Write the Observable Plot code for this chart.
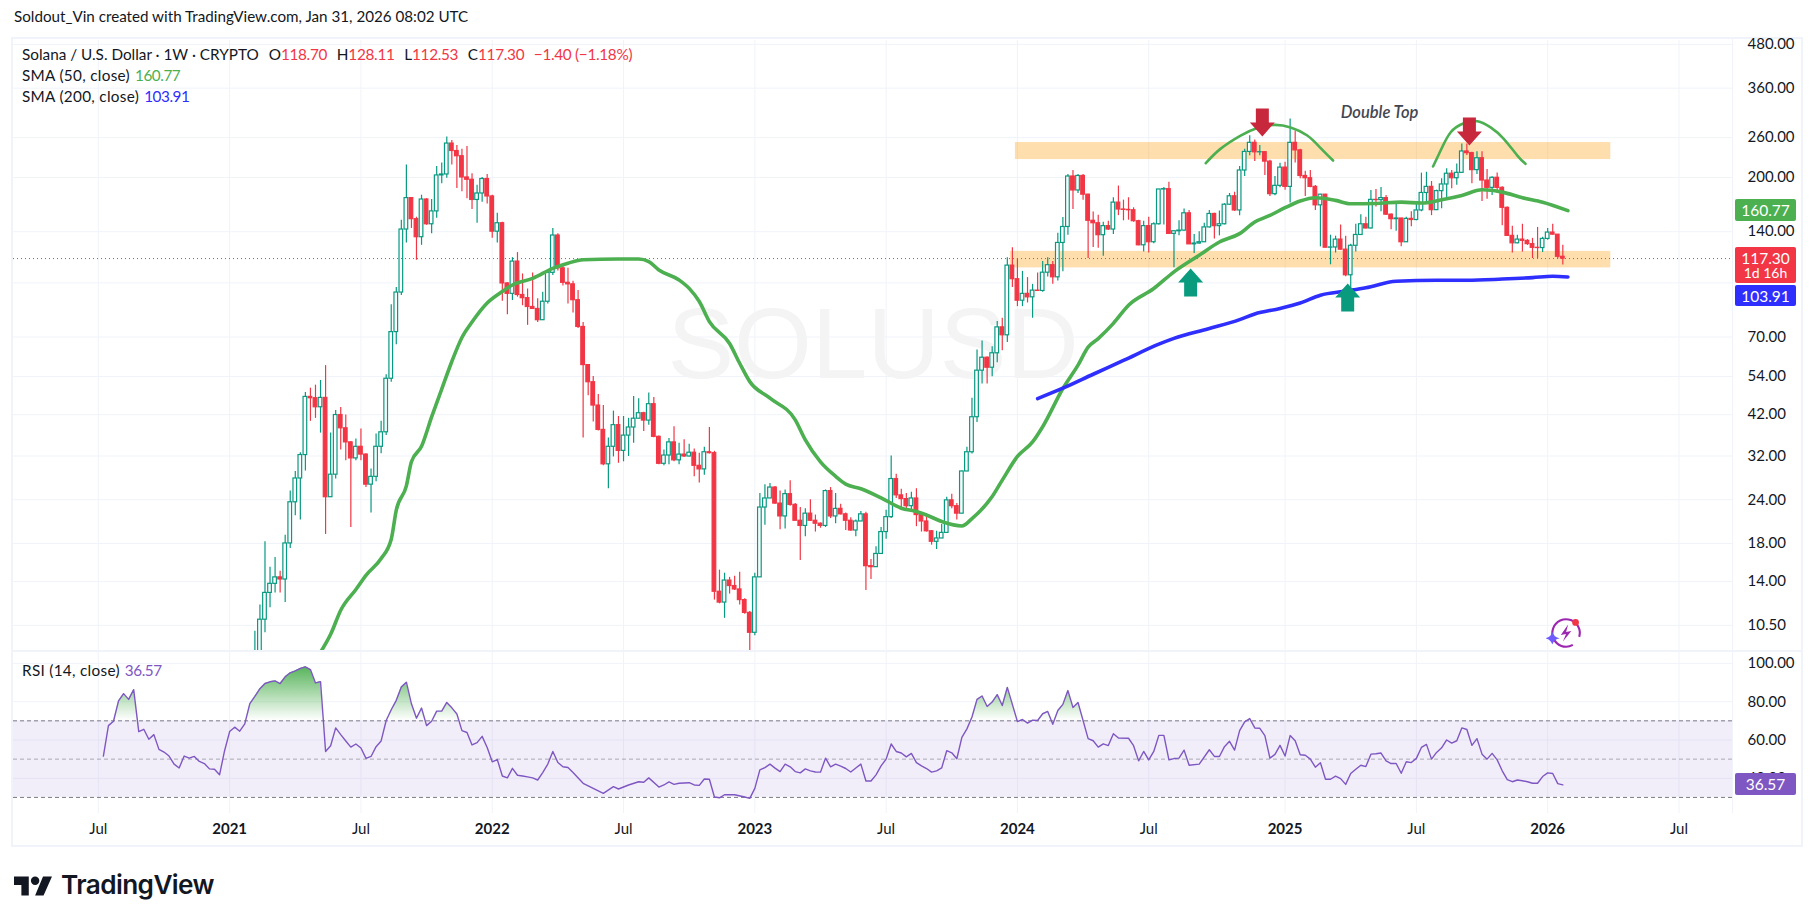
<!DOCTYPE html>
<html>
<head>
<meta charset="utf-8">
<script src="https://cdn.jsdelivr.net/npm/d3@7"></script>
<script src="https://cdn.jsdelivr.net/npm/@observablehq/plot@0.6"></script>
<style>
  html, body { margin: 0; padding: 0; background: #fff; }
  body { width: 1814px; height: 922px; position: relative; overflow: hidden; font-family: Lato, "Noto Sans", sans-serif; color: #131722; }
  .abs { position: absolute; white-space: nowrap; }
  #frame { left: 13px; top: 39px; width: 1788px; height: 806px; border: 2px solid #f0f3fa; box-sizing: content-box; margin: -2px 0 0 -2px; }
  #main, #rsi { left: 13px; }
  #main { top: 40px; }
  #rsi { top: 652px; }
  .tag { position: absolute; left: 1735px; width: 61px; color: #fff; font-size: 15.5px; text-align: center; border-radius: 2px; line-height: 22px; }
  .legend { position: absolute; left: 22px; font-size: 15.3px; }
  .wide { letter-spacing: 0.3px; }
  .num { letter-spacing: -0.45px; margin-left: 5px; }
  .ohlc { letter-spacing: -0.3px; }
  .ohlc b { font-weight: 400; margin-left: 6px; letter-spacing: 0; }
</style>
</head>
<body>
<div class="abs" style="left:14px;top:7px;font-size:15.2px;">Soldout_Vin created with TradingView.com, Jan 31, 2026 08:02 UTC</div>
<div class="abs" id="frame"></div>
<div class="abs" id="main"></div>
<div class="abs" id="rsi"></div>
<div class="abs" style="left:1732px;top:39px;width:1px;height:774px;background:#f0f3fa;"></div>
<div class="abs" style="left:13px;top:650px;width:1788px;height:2px;background:#f0f3fa;"></div>

<div class="legend" style="top:45px;">Solana / U.S. Dollar · 1W · CRYPTO <span class="ohlc"><b>O</b><span style="color:#f23645">118.70</span> <b>H</b><span style="color:#f23645">128.11</span> <b>L</b><span style="color:#f23645">112.53</span> <b>C</b><span style="color:#f23645">117.30</span> <span style="color:#f23645;margin-left:6px">−1.40 (−1.18%)</span></span></div>
<div class="legend wide" style="top:66px;">SMA (50, close)<span class="num" style="color:#4caf50">160.77</span></div>
<div class="legend wide" style="top:87px;">SMA (200, close)<span class="num" style="color:#2e2eff">103.91</span></div>
<div class="legend wide" style="top:661px;">RSI (14, close)<span class="num" style="color:#7e57c2">36.57</span></div>

<svg class="abs" style="left:1546px;top:616px;" width="38" height="34" viewBox="0 0 36 32">
  <circle cx="19" cy="16" r="13" fill="none" stroke="#9c27b0" stroke-width="2" stroke-dasharray="60 10" transform="rotate(110 19 16)"/>
  <path d="M21 8 L14 18 L19 17 L16 24 L24 14 L19 15 Z" fill="#9c27b0"/>
  <path d="M6 15 Q7.5 20 13 21 Q7.5 22 6 27 Q4.5 22 -1 21 Q4.5 20 6 15 Z" fill="#6e5cff"/>
  <circle cx="28" cy="6" r="3.2" fill="#f23645"/>
</svg>

<svg class="abs" style="left:14px;top:874px;" width="38" height="24" viewBox="0 0 36 22">
  <path d="M14 2H0v8h7v10h7V2Zm14 18h-8L27.5 2H36l-8 18ZM20 2a4 4 0 1 1 0 8 4 4 0 0 1 0-8Z" fill="#131722"/>
</svg>
<div class="abs" style="left:61px;top:869px;font-family:Inter,sans-serif;font-weight:600;font-size:26.2px;letter-spacing:-0.6px;color:#131722;">TradingView</div>

<script>
// weekly candles, week 0 = 2021-02-08
const firstWeek = Date.UTC(2021, 1, 8);
const weekDate = w => new Date(firstWeek + w * 7 * 864e5);

const weekClose = [
  8.7,10.9,13,13.8,14.4,14.2,18,23.6,27.6,32.2,47.2,46.8,44.1,46.9,24.4,28.3,41.9,38.4,35,31.5,
  34,32.3,26.5,27.9,34,37.4,53.2,72.3,93.8,142,174.6,152,135,173,147,160,202.7,204,250,238,
  230,200,197,172.5,180,198,176.5,140,148,99.6,93,115,92.3,90.4,85.3,84.2,78.2,88.3,106.8,136.5,
  110,100,99,89.2,74.8,58.2,52,44.6,38,30.3,34,39.2,33.1,36.6,38.6,40.9,42.4,40.4,45,36.3,
  30.4,32.1,35,31.1,32.3,31.9,32.7,30,29.3,32.8,32.6,13.1,12.2,14.1,13.6,13.3,12.4,11.4,10,14.4,
  22.8,24.2,26,23.4,21.5,24.9,23.2,20.9,20.2,21.9,20.9,20.5,20.2,25.4,21.5,22.6,21.8,20.9,19.6,20.8,
  21.8,15.5,15.4,16.8,19.4,21.4,27.5,24.7,24.1,23,24.2,21.7,20.8,19.5,18.2,18.6,19.3,23.9,23,21.9,
  28.9,32.8,41.3,56.1,61.1,57.2,62.9,74.6,70.8,112,102.4,88.9,93,90.9,95,94.8,106.9,112.3,103.7,130,
  144.4,201.3,183.6,202,178.6,150.4,148,136.8,145.2,142,169.5,162,161.6,161.2,150,128,145.2,130.6,147,184.8,
  185.2,138,140.4,141,158,128.8,129.5,130.6,144,157.3,145.2,147,167.2,176.7,161,209.4,236.6,251.2,236,236.2,
  222,179.2,189.3,213.4,188,251.2,239,202,199,188,166.5,178.6,126,126.2,132.9,124.4,105.1,127.6,137,147,
  143,172.6,172.3,174.6,156.6,152,152.7,130.6,152.3,151.2,161,180.6,188,161.3,182.8,191,205,199,206.2,237.3,
  234.7,209.9,227,196,186.8,199.6,186.8,163.8,136.2,129.7,132.9,131.8,129,125.9,125.7,133.5,139.2,137.3,118.7,117.3
];
const weekHigh = [
  10.1,12,18.2,15.4,16.4,15,19,25.4,28.9,32.7,48.6,50,51,52.6,58,37.2,43.2,44,41.9,35.2,
  35.8,38.2,32.5,29.4,37,40.2,54.6,86.5,97,151,217,175,154,178,174,173,215,220,261,255,
  247,241,245,205,190,200,204,178,158,149,100,118,122,106,96,106.6,90,94,108,143,
  138,112,110,101,95,77,58.3,54,48,44.6,36,43,41.5,41.5,41,47.3,46.6,42.7,48.4,47,
  36.5,33.3,35.9,38.8,34.8,35.6,34.6,33.5,32.6,33.9,38.6,33,15.1,14.8,14.4,14.5,14.9,12.5,11.5,14.8,
  25,26.5,26.7,26.2,25.4,25.6,27.2,23.4,22.8,22.6,24,21.7,20.6,25.6,26,25,23.3,22,21.3,21,
  22.2,22.1,16.2,17.6,20,22.4,32,28.4,25.7,25,25.2,25.8,21.9,21.7,19.6,19.5,20.4,24.4,24.9,23.4,
  29,33.9,46.8,64.3,68.2,61.4,65.7,77.5,79.2,118,126,117,107.8,103.5,99,106.7,115,118,115,138.5,
  153.8,203.9,209.4,204,204,179,159.3,156,149,150,175,189,172.3,175,163.8,151,150,154,148.4,184.8,
  187.2,193.8,140.4,150.4,162.5,161,137.5,140,148,161,158,160.4,168.4,180,181.5,215,241,263,256,246.7,
  237,224,201.3,219.7,221,294,271,241,208.5,209.4,189.8,179,179,136.8,135.9,146.4,135.9,128.8,147,156.6,
  154,183.6,184.8,187.2,177.7,157.3,168.4,152.3,154,159.6,167.6,205.8,207,194.8,184,198.2,211.8,209.4,218.7,249.3,
  249.3,236,237,237,210.6,201,205.8,188,164.7,145,136.8,147,132.9,134,144,135,143,147,137.5,128.11
];
const weekLow = [
  7.5,8.2,10,11.8,13,13,12.2,17.4,21.6,21,29,40.2,41,37.2,19.1,24.4,27.5,33.3,31,20,
  31,31,26,22,27,32.5,36.6,52,66.5,92,130,143,116,128,146,138,153,192,199,217,
  186,182,174,162,148,170,168,134,130,88.6,81,89,91,86,75.6,84,77,78,87,105,
  108,98,87,82,74,36,47.6,40,37.7,30,25.8,31.8,30.5,30.8,31.9,34.8,41,37.6,39.2,36.1,
  30.2,30,30.2,30.8,30.2,31.7,31.8,27.9,26.8,28.2,32.4,12.4,12.1,11,12.9,13.2,12,11.3,8.9,9.8,
  14.4,20.3,24.2,23.3,19.7,19.8,23,20.9,16.1,18.8,20.8,19.4,19.9,20,21.2,20.5,21.7,19.6,19.5,18.8,
  20.8,13.2,14.2,15.4,16.8,18.5,21.2,24.2,22.7,22.2,22.1,20.1,19.4,19.4,17.8,17.3,18.6,19.3,22.6,21,
  21.9,28.9,32.4,39.9,51.4,51.4,53.9,59.1,64,67.5,97,85.5,85.5,87.6,79.2,94.4,94,103.9,99,101.2,
  107.5,136.8,162,179.9,172.3,117.3,126.2,125.6,119.2,141,137.5,155.6,150.4,151,149,127.6,122.4,121.7,129.4,146.4,
  146.4,137.5,110.4,136.2,140.4,128.8,121.2,129,130.6,143.4,133.4,136.2,146.4,166.5,160,155.4,201.3,230.6,222,230.6,
  202.6,176.4,177.3,187,184,169.2,220,198.2,176.4,186.8,161,126.7,126,112.6,121.7,124,104.1,95,122.4,136.8,
  142.6,142.6,164.7,159.6,155.6,141.8,140.4,126.7,130.6,144.6,150.4,159.6,168.4,155.6,161,162.8,173.3,185.8,190,205.8,
  231,192,204,170.7,173.3,177.7,179.9,145.6,136.2,121.7,129.4,122.4,127.9,117.3,117.3,122,132.3,137,117,112.53
];

const sma50Week = [13,15,17,20,22,25,27,28,30,31,33,35,37,39,41,43,46,49,51,55,59,62,65,72,76,78,80,84,86,88,90,94,96,98,102,107,109,112,115,117,120,124,128,131,133,136,140,142,146,148,151,154,156,160,163,165,167,170,173,178,182,187,191,195,198,201,204,207,210,214,217,222,227,231,235,239,243,247,251,255,260];
const sma50Value = [8.8,9.9,11.6,13.3,14.6,16.3,18.5,22.4,26.3,30.8,34.1,41.4,49.7,59.6,69.8,77.3,87.6,94.5,98.6,103,110,113.8,116.4,117,117,115,108.8,101.9,96.4,88.4,77.5,67.1,58.9,52.2,46.8,40.6,35.6,30.8,28,26.6,25.8,24.3,22.7,22.2,21.7,20.8,20.2,21.2,24.5,27.3,31.9,35.1,38.8,49.9,58.2,65.5,69.3,76.6,86.3,96.3,107.5,119.9,130.8,138.2,149.2,155.8,163.9,171.3,175,172,168.2,168.6,170,169,172.7,177.7,184.4,181.6,175,170,160.77];
const sma200Week = [155,160,166,172,179,182,189,195,198,203,207,211,216,220,226,234,240,247,253,257,260];
const sma200Value = [46.7,50,54.8,60,66.8,69.4,74,78.5,81.5,84.5,87.6,92.2,94.7,96.8,101,101.7,101.7,102.5,103.5,104.4,103.91];

const rsiWeek = [-30,-29,-28,-27,-26,-25,-24,-23,-22,-21,-20,-19,-18,-17,-16,-15,-14,-13,-12,-11,-10,-9,-8,-7,-6,-5,-4,-3,-2,-1,0,1,2,3,4,5,6,7,8,9,10,11,12,13,14,15,16,17,18,19,20,21,22,23,24,25,26,27,28,29,30,31,32,33,34,35,36,37,38,39,40,41,42,43,44,45,46,47,48,49,50,51,52,53,54,55,56,57,58,59,60,61,62,63,65,67,69,71,72,74,76,77,78,80,81,82,83,84,86,87,88,89,90,91,92,93,95,97,98,99,100,101,102,103,104,105,106,107,108,109,110,111,112,113,114,115,116,117,118,119,120,121,122,123,124,125,126,127,128,129,130,131,132,133,134,135,136,137,138,139,140,141,142,143,144,145,146,147,148,149,151,152,153,154,155,156,157,158,159,160,161,162,163,165,166,167,168,169,170,171,173,174,175,176,177,178,179,180,181,182,183,184,185,187,189,190,191,192,193,194,195,196,197,198,199,200,201,202,203,204,205,206,207,208,209,210,211,212,213,214,215,216,217,218,219,220,221,222,223,224,225,226,227,228,229,230,231,232,233,234,235,236,237,238,239,240,241,242,243,244,245,246,247,248,249,250,251,252,253,254,255,256,257,258,259];
const rsiValue = [51.6,67.5,69.8,80.4,84.2,81.2,86.3,64.4,65.6,60.4,62.8,55.1,53.7,51.6,47.4,45.4,51.6,50.5,51.4,48.8,47.7,44.9,44.7,41.8,54.4,64.4,66.7,64.6,68.4,79,82.8,86.8,89.5,90.4,90.9,89.5,93,95.1,96.1,97.4,98.2,96.8,89.8,90.5,54,57,66.3,62.8,59.5,56.3,57.9,55.8,50.4,51.4,56.5,59.5,70.2,75.8,80.7,87.7,90.2,78.9,71.4,76.7,67.5,69.8,75.1,75.1,79.6,76.8,73.6,64.9,63.9,57.4,58.6,61.9,56.1,48.6,49.8,41.2,40.2,45.2,41.6,41.2,40.7,40.2,39.1,43,47.4,54,48.2,46,45.6,43,37.4,34.7,32.1,35.6,34.4,36.5,38.2,37.9,40.2,35.4,36.5,38.1,36.8,37.4,37.7,36.5,36.3,39.6,39.5,30.2,29.8,31.4,31.4,30.2,29.5,34.7,44.4,45.6,47.4,45.3,43.5,47.4,46,43.5,42.8,44.9,43.9,43.3,43.2,50.5,46,47.4,46.3,45.1,43.3,45.4,47.4,38.6,38.6,41.8,46.5,50,57.9,54,53.2,51.2,53,48.2,46.5,45.1,43.2,43.9,45.4,54.4,53.3,50.2,61.4,65.8,72,81.2,83,77.5,79.8,83.7,78,87.5,69.6,70.7,68.8,70.4,70.2,73.7,74.9,68.2,75.4,78.6,85.8,77,79.6,60.7,59.6,56.3,58,57.1,63.3,61,60.9,57,49.1,54,49.6,54,62.4,62.4,49.6,50.3,50.5,54.7,46.8,47.4,54.9,51.4,51.4,56.5,59.3,54.7,64.9,69.5,71.2,66.3,66.1,62.3,50.5,52.5,57.2,51.6,62.3,59.6,52.3,52,50,45.8,48.1,39.5,39.5,41.1,39.8,36.8,42.5,44.7,46.8,46.1,52.6,52.8,53.2,49.1,47.7,47.7,42.6,48.6,48.2,50.4,56.1,57.7,50,53.5,55.9,60,58.4,59.6,66.3,65.5,57.2,60.7,52.6,50,53,49.6,43.9,39.3,38.2,39.1,38.7,38.2,37.4,37.4,40.9,42.8,42.5,37.2,36.57];

const priceTicks = [480,360,260,200,140,100,70,54,42,32,24,18,14,10.5];
const priceLabels = [480,360,260,200,140,70,54,42,32,24,18,14,10.5];
const rsiTicks = [100,80,60,40];
const yearTicks = ["2021-01-04","2022-01-03","2023-01-02","2024-01-01","2025-01-06","2026-01-05"].map(d => new Date(d));
const julyTicks = ["2020-07-06","2021-07-05","2022-07-04","2023-07-03","2024-07-01","2025-07-07","2026-07-06"].map(d => new Date(d));
const timeTicks = yearTicks.concat(julyTicks);

// zones, brushed arcs and arrows drawn on the chart
const zones = [
  {from: 150.6, to: 268.5, low: 225, high: 251.7},
  {from: 149.6, to: 268.5, low: 110.3, high: 123}
];
const arcOne = {week: [188.3,191.2,195.2,198.5,201.8,205.1,208.4,211,213.5], price: [219.7,241.4,263.5,277,282.6,278,263.5,243,223.6]};
const arcTwo = {week: [233.3,234.8,236.8,239.4,242.1,244.7,247.3,250,251.6], price: [215,238.8,269.3,285.7,289.5,278,258,231,218.8]};
const downArrows = [{week: 199.5, price: 262}, {week: 240.5, price: 246.8}];
const upArrows = [{week: 185.3, price: 109.8}, {week: 216.4, price: 99.5}];

const teal = "#089981", red = "#f23645", grid = "#f0f3fa";
const green = "#4caf50", blue = "#2e2eff", purple = "#7e57c2";
const xDomain = [weekDate(-47.8), weekDate(292.6)];
const plotFont = {fontFamily: "Lato, 'Noto Sans', sans-serif", background: "transparent", overflow: "visible"};

const candles = weekClose.map((close, i) => {
  const open = i ? weekClose[i - 1] : 7.6;
  return {date: weekDate(i), left: weekDate(i - 0.36), right: weekDate(i + 0.36), open, close, high: weekHigh[i], low: weekLow[i], up: close >= open};
});
const lineRows = (weeks, values) => weeks.map((w, i) => ({date: weekDate(w), value: values[i]}));
const arcRows = arc => arc.week.map((w, i) => ({date: weekDate(w), value: arc.price[i]}));

const blockArrow = {
  draw(context, l) {
    const neck = l - 14;
    context.moveTo(-6.5, 0);
    context.lineTo(-6.5, -neck);
    context.lineTo(-12.5, -neck);
    context.lineTo(0, -l);
    context.lineTo(12.5, -neck);
    context.lineTo(6.5, -neck);
    context.lineTo(6.5, 0);
    context.closePath();
  }
};
const arrowMark = (rows, fill, rotate) => Plot.vector(rows, {
  x: d => weekDate(d.week), y: "price", length: 28, rotate, anchor: "end", shape: blockArrow, fill, stroke: "none"
});

const mainPlot = Plot.plot({
  width: 1788, height: 610,
  marginLeft: 0, marginRight: 69, marginTop: 0, marginBottom: 0,
  style: plotFont,
  x: {type: "utc", domain: xDomain, axis: null},
  y: {type: "log", domain: [8.9, 492.5], axis: null},
  marks: [
    Plot.ruleY(priceTicks, {stroke: grid}),
    Plot.ruleX(timeTicks, {stroke: grid}),
    Plot.text(["SOLUSD"], {frameAnchor: "middle", fontSize: 100, fontFamily: "Liberation Sans", fill: "#f4f4f5"}),
    Plot.rect(zones, {x1: d => weekDate(d.from), x2: d => weekDate(d.to), y1: "low", y2: "high", fill: "#ff9800", fillOpacity: 0.32}),
    Plot.ruleX(candles, {x: "date", y1: "low", y2: "high", stroke: d => d.up ? teal : red, strokeWidth: 1.2, clip: true}),
    Plot.rect(candles, {x1: "left", x2: "right", y1: "open", y2: "close", fill: d => d.up ? "#fff" : red, stroke: d => d.up ? teal : red, strokeWidth: 1.2, clip: true}),
    Plot.ruleY([117.3], {stroke: red, strokeDasharray: "1,3"}),
    Plot.line(lineRows(sma50Week, sma50Value), {x: "date", y: "value", stroke: green, strokeWidth: 3.6, curve: "monotone-x", clip: true}),
    Plot.line(lineRows(sma200Week, sma200Value), {x: "date", y: "value", stroke: blue, strokeWidth: 3.6, curve: "monotone-x"}),
    Plot.line(arcRows(arcOne), {x: "date", y: "value", stroke: green, strokeWidth: 2.6, curve: "natural"}),
    Plot.line(arcRows(arcTwo), {x: "date", y: "value", stroke: green, strokeWidth: 2.6, curve: "natural"}),
    arrowMark(downArrows, "#c8283c", 180),
    arrowMark(upArrows, "#0a9b7f", 0),
    Plot.text(["Double Top"], {x: weekDate(222.7), y: 306, fontSize: 16.5, fontStyle: "italic", fontWeight: 600, fill: "#434651"}),
    Plot.axisY(priceLabels, {anchor: "right", tickSize: 0, tickPadding: 15, tickFormat: d => d.toFixed(2), fontSize: 15, color: "#131722", label: null})
  ]
});
document.getElementById("main").append(mainPlot);

const rsiRows = lineRows(rsiWeek, rsiValue);
const rsiPlot = Plot.plot({
  width: 1788, height: 193,
  marginLeft: 0, marginRight: 69, marginTop: 0, marginBottom: 32,
  style: plotFont,
  x: {type: "utc", domain: xDomain, axis: null},
  y: {domain: [21.6, 105.7], axis: null},
  marks: [
    Plot.ruleY(rsiTicks, {stroke: grid}),
    Plot.ruleX(timeTicks, {stroke: grid}),
    Plot.rect([{}], {x1: xDomain[0], x2: xDomain[1], y1: 30, y2: 70, fill: purple, fillOpacity: 0.1}),
    Plot.ruleY([70, 30], {stroke: "#787b86", strokeDasharray: "4,3"}),
    Plot.ruleY([50], {stroke: "#787b86", strokeOpacity: 0.6, strokeDasharray: "4,3"}),
    Plot.areaY(rsiRows, {x: "date", y1: 70, y2: "value", fill: "url(#rsiGlow)"}),
    Plot.line(rsiRows, {x: "date", y: "value", stroke: purple, strokeWidth: 1.4}),
    Plot.axisY(rsiTicks, {anchor: "right", tickSize: 0, tickPadding: 15, tickFormat: d => d.toFixed(2), fontSize: 15, color: "#131722", label: null}),
    Plot.axisX(julyTicks, {anchor: "bottom", tickSize: 0, tickPadding: 10, tickFormat: "%b", fontSize: 15, color: "#131722", label: null}),
    Plot.axisX(yearTicks, {anchor: "bottom", tickSize: 0, tickPadding: 10, tickFormat: "%Y", fontSize: 15, fontWeight: 700, color: "#131722", label: null})
  ]
});
document.getElementById("rsi").append(rsiPlot);

// only the part of the RSI above 70 gets the green glow
const rsiY = rsiPlot.scale("y");
const rsiSvg = d3.select(rsiPlot);
const defs = rsiSvg.append("defs");
const glow = defs.append("linearGradient").attr("id", "rsiGlow")
  .attr("gradientUnits", "userSpaceOnUse").attr("x1", 0).attr("x2", 0)
  .attr("y1", rsiY.apply(100)).attr("y2", rsiY.apply(70));
glow.append("stop").attr("offset", 0).attr("stop-color", green).attr("stop-opacity", 1);
glow.append("stop").attr("offset", 1).attr("stop-color", green).attr("stop-opacity", 0);
defs.append("clipPath").attr("id", "rsiTop").append("rect")
  .attr("x", 0).attr("y", 0).attr("width", 1788).attr("height", rsiY.apply(70));
rsiSvg.selectAll('g[aria-label="area"] path').attr("clip-path", "url(#rsiTop)");

// price tags on the right axis sit on the scale position of their value
const addTag = (top, height, color, html) => {
  const tag = document.createElement("div");
  tag.className = "tag";
  tag.style.cssText = `top:${top}px;height:${height}px;background:${color};`;
  tag.innerHTML = html;
  document.body.append(tag);
};
const mainY = mainPlot.scale("y");
const rowTop = value => 40 + mainY.apply(value) - 11;
addTag(rowTop(160.77), 22, green, "160.77");
addTag(rowTop(117.3), 36, red, `117.30<br><span style="font-size:14px;line-height:14px;display:block;margin-top:-3px">1d 16h</span>`);
addTag(rowTop(117.3) + 38, 21, blue, "103.91");
addTag(652 + rsiY.apply(36.57) - 11, 22, purple, "36.57");
</script>
</body>
</html>
